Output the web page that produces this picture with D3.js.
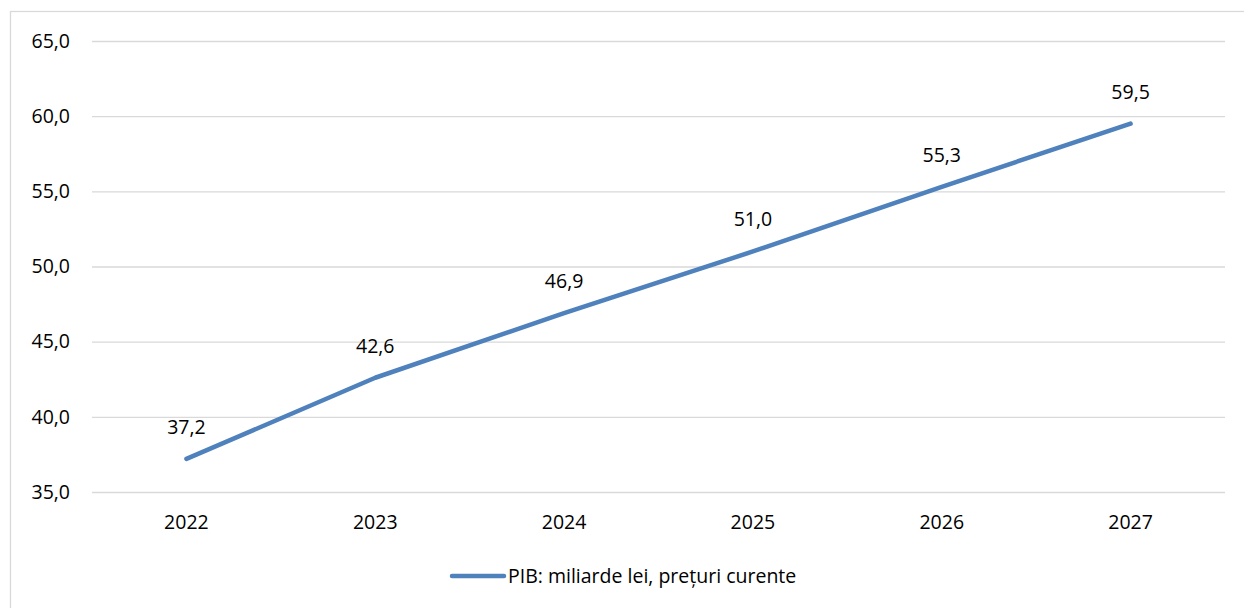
<!DOCTYPE html>
<html>
<head>
<meta charset="utf-8">
<script src="https://cdn.jsdelivr.net/npm/d3@7"></script>
<style>
body{margin:0;background:#fff}
text{font-family:"Open Sans",sans-serif;fill:#000}
</style>
</head>
<body>
<div id="chart-area"></div>
<script>
const years = ["2022","2023","2024","2025","2026","2027"]
const pib = [37.2,42.6,46.9,51.0,55.3,59.5]
const yTicks = [35,40,45,50,55,60,65]
const seriesName = "PIB: miliarde lei, prețuri curente"

const W = 1244, H = 608
const MARGIN = {LEFT:92,RIGHT:19,TOP:41,BOTTOM:116}

const svg = d3.select("#chart-area").append("svg")
	.attr("width",W)
	.attr("height",H)

// chart border
svg.append("rect")
	.attr("x",10.5).attr("y",11.5)
	.attr("width",W).attr("height",H)
	.attr("fill","none")
	.attr("stroke","#d9d9d9")
	.attr("stroke-width",1.3)

const x = d3.scaleBand()
	.domain(years)
	.range([MARGIN.LEFT,W-MARGIN.RIGHT])

const y = d3.scaleLinear()
	.domain([35,65])
	.range([H-MARGIN.BOTTOM,MARGIN.TOP])

const fmt = v => d3.format(".1f")(v).replace(".",",")

// gridlines + y labels
const yAxis = d3.axisLeft(y)
	.tickValues(yTicks)
	.tickFormat(fmt)
	.tickSize(-(W-MARGIN.RIGHT-MARGIN.LEFT))
	.tickPadding(22)

svg.append("g")
	.attr("transform",`translate(${MARGIN.LEFT},0)`)
	.call(yAxis)
	.call(g=>g.select(".domain").remove())
	.call(g=>g.selectAll("line").attr("stroke","#d9d9d9").attr("stroke-width",1.3))
	.call(g=>g.selectAll("text").attr("font-size","19.5px").attr("fill","#000")
		.attr("font-family","Open Sans"))

// x labels
const xAxis = d3.axisBottom(x).tickSize(0).tickPadding(23)
svg.append("g")
	.attr("transform",`translate(0,${y(35)})`)
	.call(xAxis)
	.call(g=>g.select(".domain").remove())
	.call(g=>g.selectAll("text").attr("font-size","19.5px").attr("fill","#000")
		.attr("font-family","Open Sans"))

const cx = d => x(d)+x.bandwidth()/2

const line = d3.line()
	.x((d,i)=>cx(years[i]))
	.y(d=>y(d))

svg.append("path")
	.datum(pib)
	.attr("d",line)
	.attr("fill","none")
	.attr("stroke","#4f81bd")
	.attr("stroke-width",4.5)
	.attr("stroke-linecap","round")
	.attr("stroke-linejoin","round")

svg.selectAll(".lbl")
	.data(pib)
	.enter().append("text")
	.attr("class","lbl")
	.attr("x",(d,i)=>cx(years[i]))
	.attr("y",d=>y(d)-25)
	.attr("text-anchor","middle")
	.attr("font-size","19.5px")
	.text(fmt)

// legend
const legend = svg.append("g").attr("transform","translate(452,576)")
legend.append("line")
	.attr("x1",0).attr("x2",52)
	.attr("stroke","#4f81bd")
	.attr("stroke-width",4.5)
	.attr("stroke-linecap","round")
legend.append("text")
	.attr("x",56)
	.attr("y",7)
	.attr("font-size","19.5px")
	.text(seriesName)
</script>
</body>
</html>
